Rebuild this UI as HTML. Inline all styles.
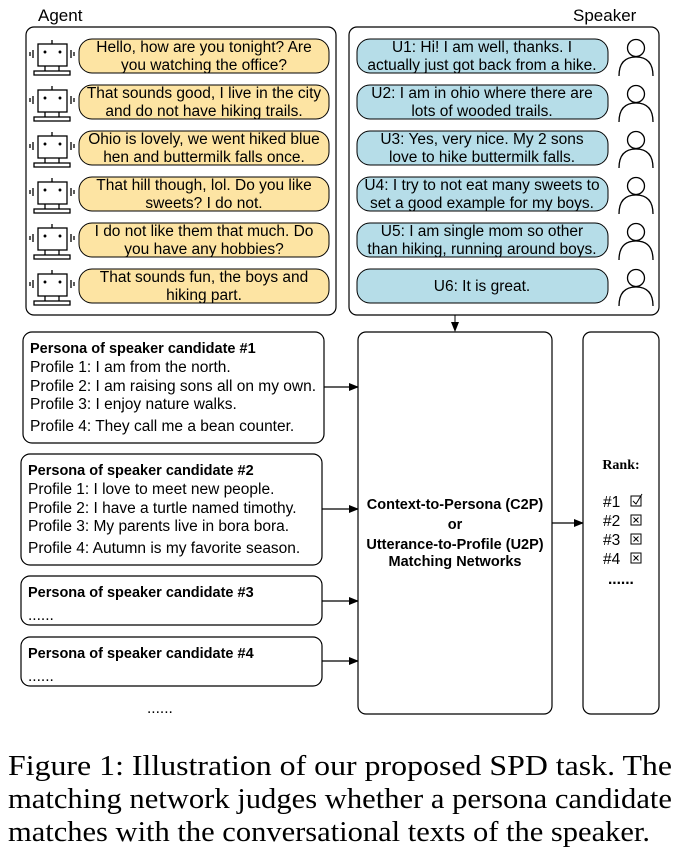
<!DOCTYPE html>
<html><head><meta charset="utf-8"><style>
body{margin:0;background:#fff;width:678px;height:857px;overflow:hidden}
svg{display:block}
.s{font-family:"Liberation Sans",sans-serif;font-size:15.5px;fill:#000}
.t{font-family:"Liberation Sans",sans-serif;font-size:14.5px;fill:#000;font-weight:bold}
.b{font-weight:bold}
.cap{font-family:"Liberation Serif",serif;font-size:28px;fill:#000}
</style></head><body>
<svg width="678" height="857" viewBox="0 0 678 857" xmlns="http://www.w3.org/2000/svg">
<defs>
<marker id="ah" markerWidth="10" markerHeight="8" refX="9" refY="4" orient="auto" markerUnits="userSpaceOnUse"><path d="M0,0 L10,4 L0,8 z" fill="#000"/></marker>
<g id="robot" fill="none" stroke="#000" stroke-width="1.3">
<rect x="38" y="44" width="29" height="22"/>
<line x1="52" y1="40" x2="52" y2="44"/>
<line x1="45" y1="66" x2="45" y2="71"/><line x1="59" y1="66" x2="59" y2="71"/>
<rect x="34" y="71" width="36" height="4"/>
<line x1="33" y1="50" x2="33" y2="58"/><line x1="30" y1="52" x2="30" y2="56"/>
<line x1="71" y1="50" x2="71" y2="58"/><line x1="74" y1="52" x2="74" y2="56"/>
<circle cx="45" cy="52" r="0.8" fill="#000"/><circle cx="60" cy="52" r="0.8" fill="#000"/>
</g>
<g id="person" fill="none" stroke="#000" stroke-width="1.3">
<circle cx="636" cy="48" r="8.5"/>
<path d="M619,76 Q619,57 636,57 Q653,57 653,76"/>
</g>
</defs>
<text x="38" y="21" class="s" style="font-size:17px">Agent</text>
<text x="573" y="21" class="s" style="font-size:17px">Speaker</text>
<rect x="26" y="27" width="310" height="288" rx="8" fill="#fff" stroke="#000" stroke-width="1.2"/>
<rect x="349" y="27" width="310" height="288" rx="8" fill="#fff" stroke="#000" stroke-width="1.2"/>
<g id="agent">
<g><use href="#robot"/><rect x="79" y="39" width="250" height="34" rx="13" fill="#fde4a3" stroke="#000"/></g>
<g transform="translate(0,46)"><use href="#robot"/><rect x="79" y="39" width="250" height="34" rx="13" fill="#fde4a3" stroke="#000"/></g>
<g transform="translate(0,92)"><use href="#robot"/><rect x="79" y="39" width="250" height="34" rx="13" fill="#fde4a3" stroke="#000"/></g>
<g transform="translate(0,138)"><use href="#robot"/><rect x="79" y="39" width="250" height="34" rx="13" fill="#fde4a3" stroke="#000"/></g>
<g transform="translate(0,184)"><use href="#robot"/><rect x="79" y="39" width="250" height="34" rx="13" fill="#fde4a3" stroke="#000"/></g>
<g transform="translate(0,230)"><use href="#robot"/><rect x="79" y="39" width="250" height="34" rx="13" fill="#fde4a3" stroke="#000"/></g>
</g>
<g class="s" text-anchor="middle">
<text x="204" y="52">Hello, how are you tonight? Are</text><text x="204" y="70">you watching the office?</text>
<text x="204" y="98">That sounds good, I live in the city</text><text x="204" y="116">and do not have hiking trails.</text>
<text x="204" y="144">Ohio is lovely, we went hiked blue</text><text x="204" y="162">hen and buttermilk falls once.</text>
<text x="204" y="190">That hill though, lol. Do you like</text><text x="204" y="208">sweets? I do not.</text>
<text x="204" y="236">I do not like them that much. Do</text><text x="204" y="254">you have any hobbies?</text>
<text x="204" y="282">That sounds fun, the boys and</text><text x="204" y="300">hiking part.</text>
</g>
<g>
<rect x="357" y="39" width="251" height="34" rx="13" fill="#b6dde8" stroke="#000"/><use href="#person"/>
<rect x="357" y="85" width="251" height="34" rx="13" fill="#b6dde8" stroke="#000"/><use href="#person" transform="translate(0,46)"/>
<rect x="357" y="131" width="251" height="34" rx="13" fill="#b6dde8" stroke="#000"/><use href="#person" transform="translate(0,92)"/>
<rect x="357" y="177" width="251" height="34" rx="13" fill="#b6dde8" stroke="#000"/><use href="#person" transform="translate(0,138)"/>
<rect x="357" y="223" width="251" height="34" rx="13" fill="#b6dde8" stroke="#000"/><use href="#person" transform="translate(0,184)"/>
<rect x="357" y="269" width="251" height="34" rx="13" fill="#b6dde8" stroke="#000"/><use href="#person" transform="translate(0,230)"/>
</g>
<g class="s" text-anchor="middle">
<text x="482" y="52">U1: Hi! I am well, thanks. I</text><text x="482" y="70">actually just got back from a hike.</text>
<text x="482" y="98">U2: I am in ohio where there are</text><text x="482" y="116">lots of wooded trails.</text>
<text x="482" y="144">U3: Yes, very nice. My 2 sons</text><text x="482" y="162">love to hike buttermilk falls.</text>
<text x="482" y="190">U4: I try to not eat many sweets to</text><text x="482" y="208">set a good example for my boys.</text>
<text x="482" y="236">U5: I am single mom so other</text><text x="482" y="254">than hiking, running around boys.</text>
<text x="482" y="291">U6: It is great.</text>
</g>
<line x1="455" y1="315" x2="455" y2="331" stroke="#000" marker-end="url(#ah)"/>
<rect x="23" y="332" width="301" height="111" rx="9" fill="#fff" stroke="#000" stroke-width="1.2"/>
<rect x="21" y="454" width="301" height="111" rx="9" fill="#fff" stroke="#000" stroke-width="1.2"/>
<rect x="21" y="576" width="301" height="49" rx="9" fill="#fff" stroke="#000" stroke-width="1.2"/>
<rect x="21" y="637" width="301" height="49" rx="9" fill="#fff" stroke="#000" stroke-width="1.2"/>
<g class="s">
<text x="30" y="353" class="t">Persona of speaker candidate #1</text>
<text x="30" y="372">Profile 1: I am from the north.</text>
<text x="30" y="391">Profile 2: I am raising sons all on my own.</text>
<text x="30" y="409">Profile 3: I enjoy nature walks.</text>
<text x="30" y="431">Profile 4: They call me a bean counter.</text>
<text x="28" y="475" class="t">Persona of speaker candidate #2</text>
<text x="28" y="494">Profile 1: I love to meet new people.</text>
<text x="28" y="513">Profile 2: I have a turtle named timothy.</text>
<text x="28" y="531">Profile 3: My parents live in bora bora.</text>
<text x="28" y="553">Profile 4: Autumn is my favorite season.</text>
<text x="28" y="597" class="t">Persona of speaker candidate #3</text>
<text x="28" y="620">......</text>
<text x="28" y="658" class="t">Persona of speaker candidate #4</text>
<text x="28" y="681">......</text>
<text x="147" y="713">......</text>
</g>
<g stroke="#000" stroke-width="1.2">
<line x1="324" y1="387" x2="358" y2="387" marker-end="url(#ah)"/>
<line x1="322" y1="509" x2="358" y2="509" marker-end="url(#ah)"/>
<line x1="322" y1="601" x2="358" y2="601" marker-end="url(#ah)"/>
<line x1="322" y1="661" x2="358" y2="661" marker-end="url(#ah)"/>
<line x1="552" y1="523" x2="583" y2="523" marker-end="url(#ah)"/>
</g>
<rect x="358" y="332" width="194" height="382" rx="8" fill="#fff" stroke="#000" stroke-width="1.2"/>
<rect x="583" y="332" width="76" height="382" rx="8" fill="#fff" stroke="#000" stroke-width="1.2"/>
<g class="t" text-anchor="middle">
<text x="455" y="509">Context-to-Persona (C2P)</text>
<text x="455" y="529">or</text>
<text x="455" y="549">Utterance-to-Profile (U2P)</text>
<text x="455" y="566">Matching Networks</text>
</g>
<text x="621" y="469" text-anchor="middle" style="font-family:'Liberation Serif',serif;font-size:14px;font-weight:bold">Rank:</text>
<g class="s">
<text x="603" y="507">#1</text><text x="603" y="526">#2</text><text x="603" y="545">#3</text><text x="603" y="564">#4</text>
<text x="608" y="584" class="b">......</text>
</g>
<g fill="none" stroke="#000" stroke-width="1">
<rect x="631" y="496" width="10" height="10"/><path d="M633,501 L636,504 L642,494"/>
<rect x="631" y="515" width="10" height="10"/><path d="M633.5,517.5 L638.5,522.5 M638.5,517.5 L633.5,522.5"/>
<rect x="631" y="534" width="10" height="10"/><path d="M633.5,536.5 L638.5,541.5 M638.5,536.5 L633.5,541.5"/>
<rect x="631" y="553" width="10" height="10"/><path d="M633.5,555.5 L638.5,560.5 M638.5,555.5 L633.5,560.5"/>
</g>
<text x="8" y="775" class="cap" textLength="664" lengthAdjust="spacingAndGlyphs">Figure 1:  Illustration of our proposed SPD task.  The</text>
<text x="8" y="808" class="cap" textLength="664" lengthAdjust="spacingAndGlyphs">matching network judges whether a persona candidate</text>
<text x="8" y="841" class="cap" textLength="642" lengthAdjust="spacingAndGlyphs">matches with the conversational texts of the speaker.</text>
</svg>
</body></html>
